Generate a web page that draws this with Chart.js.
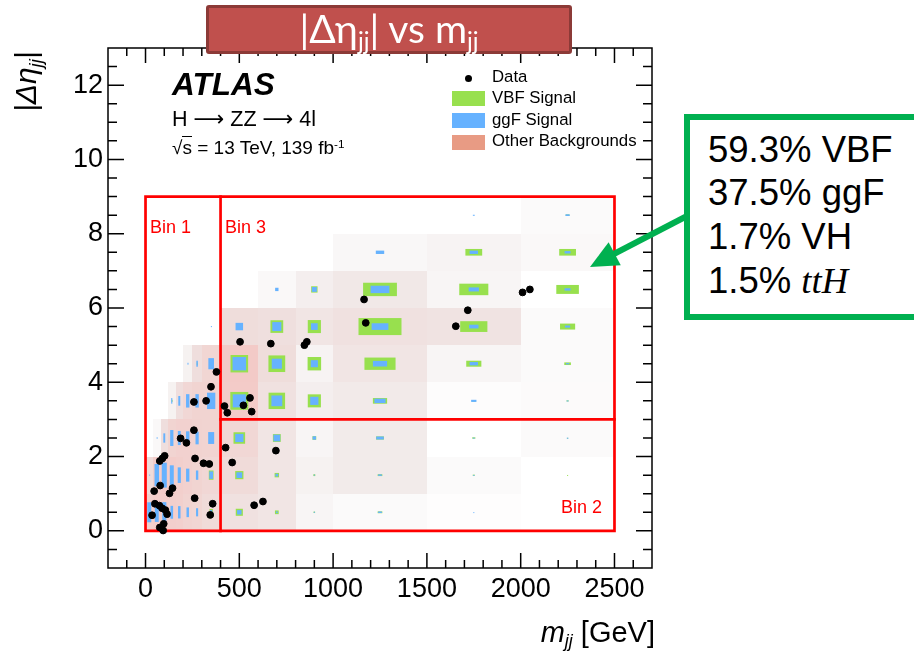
<!DOCTYPE html>
<html lang="es">
<head>
<meta charset="utf-8">
<title>|Δη_jj| vs m_jj</title>
<script src="https://cdn.jsdelivr.net/npm/chart.js@4.4.1/dist/chart.umd.min.js"></script>
<style>
  html, body { margin: 0; padding: 0; background: #fff; }
  body { width: 914px; height: 663px; position: relative; overflow: hidden; font-family: "Liberation Sans", Arial, sans-serif; color: #000; }
  #grafico { position: absolute; left: 0; top: 0; }
  .txt { position: absolute; white-space: nowrap; line-height: 1; }
  .rojo { color: #ff0000; font-size: 18px; }
  .caja { position: absolute; left: 452px; width: 33px; height: 15px; }
  .ley { font-size: 16.8px; left: 492px; }
  .linea { font-size: 36.5px; left: 708px; }
  .flecha { font-family: "DejaVu Sans", sans-serif; }
  sub { font-size: 0.62em; vertical-align: -0.3em; line-height: 0; }
  sup { font-size: 0.62em; vertical-align: 0.55em; line-height: 0; }
</style>
</head>
<body>
<canvas id="grafico" width="914" height="663"></canvas>

<div id="banner" style="position:absolute; left:206px; top:5px; width:366px; height:49px; box-sizing:border-box; background:#c0504d; border:3px solid #8c3a37; border-radius:3px; color:#fff; font-family:Lato, 'Open Sans', sans-serif; font-size:39px; display:flex; align-items:center; justify-content:center; line-height:1;">
  <span style="margin-top:-2px;">|Δη<sub>jj</sub>| vs m<sub>jj</sub></span>
</div>

<div class="txt" style="left:172px; top:69px; font-size:31.5px; font-weight:bold; font-style:italic;">ATLAS</div>
<div class="txt" style="left:172px; top:108px; font-size:21.5px;">H <span class="flecha">⟶</span> ZZ <span class="flecha">⟶</span> 4l</div>
<div class="txt" style="left:172px; top:137.5px; font-size:19px;">√<span style="border-top:1px solid #000;">s</span> = 13 TeV, 139 fb<sup>-1</sup></div>

<div style="position:absolute; left:464.8px; top:74.8px; width:7px; height:7px; border-radius:50%; background:#000;"></div>
<div class="txt ley" style="top:69px;">Data</div>
<div class="caja" style="top:91px; background:#98e04e;"></div>
<div class="txt ley" style="top:90px;">VBF Signal</div>
<div class="caja" style="top:113px; background:#66b2ff;"></div>
<div class="txt ley" style="top:111.7px;">ggF Signal</div>
<div class="caja" style="top:135px; background:#e89b84;"></div>
<div class="txt ley" style="top:133.4px;">Other Backgrounds</div>

<div class="txt rojo" style="left:150px; top:217.5px;">Bin 1</div>
<div class="txt rojo" style="left:225px; top:217.5px;">Bin 3</div>
<div class="txt rojo" style="right:312px; top:497.8px;">Bin 2</div>

<div class="txt" style="left:0; top:0; font-size:30px; font-style:italic; transform-origin:0 0; transform:translate(11px,112px) rotate(-90deg);">|Δη<sub>jj</sub>|</div>
<div class="txt" style="right:259px; top:618px; font-size:29px;"><i>m</i><sub><i>jj</i></sub> [GeV]</div>

<div style="position:absolute; left:684px; top:114px; width:250px; height:206px; box-sizing:border-box; border:6.5px solid #00b050; background:#fff;"></div>
<div class="txt linea" style="top:131.5px;">59.3% VBF</div>
<div class="txt linea" style="top:175.2px;">37.5% ggF</div>
<div class="txt linea" style="top:219.2px;">1.7% VH</div>
<div class="txt linea" style="top:262.5px;">1.5% <span style="font-family:'Liberation Serif', serif; font-style:italic;">ttH</span></div>

<svg width="914" height="663" style="position:absolute; left:0; top:0; pointer-events:none;">
  <line x1="687" y1="216" x2="612" y2="255" stroke="#00b050" stroke-width="6"/>
  <polygon points="590,267 608.6,242.3 620.8,265.3" fill="#00b050"/>
</svg>

<script>
// bordes de los bines en m_jj [GeV] y en |Δη_jj|
const bordesMjj = [0, 40, 80, 120, 160, 200, 250, 300, 400, 600, 800, 1000, 1500, 2000, 2500];
const bordesDeta = [0, 1, 2, 3, 4, 5, 6, 7, 8, 9];

// contenido de cada bin, una fila por intervalo de |Δη_jj| (fila 0 = 0-1)
const senalVBF = [
  [3, 3, 3, 1.5, 1.5, 1.2, 1.2, 3.2, 3.6, 1, 0.16, 0.25, 0, 0],
  [0, 4, 5, 4, 3, 2.5, 2, 6.3, 4.8, 1.4, 0.25, 0.25, 0.06, 0.01],
  [0, 0, 1, 3, 3, 3, 3, 3, 9.6, 4.4, 1, 0.72, 0.12, 0.01],
  [0, 0, 0, 0.3, 1, 2, 3, 5, 23, 19.4, 12.3, 2.3, 0.16, 0.06],
  [0, 0, 0, 0, 0, 0, 0.5, 2, 22, 20, 13, 11, 2.6, 0.5],
  [0, 0, 0, 0, 0, 0, 0, 0, 2.3, 11.6, 12.3, 21, 8.4, 2.6],
  [0, 0, 0, 0, 0, 0, 0, 0, 0, 0.25, 2.9, 13, 9.6, 5.8],
  [0, 0, 0, 0, 0, 0, 0, 0, 0, 0, 0, 0.5, 3.2, 3.2],
  [0, 0, 0, 0, 0, 0, 0, 0, 0, 0, 0, 0, 0, 0.16]
];
const senalGgF = [
  [29, 27, 30, 12, 11, 6.8, 4.8, 1.4, 1.4, 0.2, 0.09, 0.16, 0.01, 0],
  [0.09, 36, 45, 28, 17.6, 12.3, 6.3, 4, 2.3, 0.5, 0.09, 0.16, 0.02, 0],
  [0, 0.16, 6.3, 18.5, 14.4, 13, 11.6, 10.2, 4.8, 3.2, 0.8, 0.64, 0.04, 0.03],
  [0, 0, 0, 2.3, 6.8, 13, 13, 19.4, 12.3, 8.4, 4.8, 1.4, 0.32, 0.04],
  [0, 0, 0, 0, 0, 0.25, 2.6, 9, 13, 7.3, 3.6, 2.3, 0.8, 0.12],
  [0, 0, 0, 0, 0, 0, 0, 0.09, 4, 5.8, 3.2, 3.2, 1, 0.31],
  [0, 0, 0, 0, 0, 0, 0, 0, 0, 0.8, 1.7, 4, 1.2, 0.41],
  [0, 0, 0, 0, 0, 0, 0, 0, 0, 0, 0, 0.8, 0.8, 0.41],
  [0, 0, 0, 0, 0, 0, 0, 0, 0, 0, 0, 0, 0.04, 0.2]
];
const otrosFondos = [
  [0.70, 0.75, 0.75, 0.72, 0.70, 0.65, 0.62, 0.55, 0.45, 0.40, 0.15, 0.08, 0.03, 0],
  [0.55, 0.75, 0.78, 0.75, 0.72, 0.68, 0.65, 0.60, 0.55, 0.40, 0.20, 0.30, 0.08, 0],
  [0, 0.10, 0.50, 0.65, 0.68, 0.68, 0.66, 0.65, 0.60, 0.40, 0.15, 0.30, 0, 0.08],
  [0, 0, 0, 0.20, 0.50, 0.60, 0.65, 0.65, 0.78, 0.45, 0.25, 0.32, 0.04, 0.07],
  [0, 0, 0, 0, 0, 0.20, 0.50, 0.62, 0.80, 0.52, 0.18, 0.40, 0.15, 0.08],
  [0, 0, 0, 0, 0, 0, 0, 0, 0.52, 0.48, 0.40, 0.45, 0.42, 0.08],
  [0, 0, 0, 0, 0, 0, 0, 0, 0, 0.10, 0.25, 0.35, 0.15, 0],
  [0, 0, 0, 0, 0, 0, 0, 0, 0, 0, 0, 0.12, 0.18, 0.10],
  [0, 0, 0, 0, 0, 0, 0, 0, 0, 0, 0, 0, 0, 0.08]
];

// sucesos observados
const datosMjj = [2010, 2049, 1165, 1174, 1718, 1654, 504, 668, 860, 847,
  378, 349, 258, 323, 421, 436, 522, 557, 566, 258,
  187, 218, 427, 695, 102, 90, 76, 264, 309, 340,
  462, 78, 144, 46, 128, 262, 358, 579, 626, 50,
  74, 88, 106, 115, 35, 345, 97, 76, 94];
const datosDeta = [6.42, 6.50, 6.23, 5.60, 5.94, 5.51, 5.09, 5.04, 5.09, 5.00,
  4.28, 3.88, 3.47, 3.50, 3.36, 3.18, 3.38, 3.58, 3.21, 2.71,
  2.49, 2.37, 2.24, 2.16, 2.02, 1.95, 1.88, 1.95, 1.82, 1.80,
  1.84, 1.22, 1.15, 1.07, 1.01, 0.88, 0.73, 0.69, 0.79, 0.73,
  0.68, 0.61, 0.56, 0.45, 0.42, 0.43, 0.19, 0.09, 0.01];

const ticksMjj = [0, 500, 1000, 1500, 2000, 2500];
const ticksDeta = [0, 2, 4, 6, 8, 10, 12];

// contornos de las regiones Bin 1, 2 y 3
const contornoMjj = [0, 2500, 2500, 0, 0];
const contornoDeta = [0, 0, 9, 9, 0];
const corteVertMjj = [400, 400];
const corteVertDeta = [0, 9];
const corteHorMjj = [400, 2500];
const corteHorDeta = [3, 3];

const escalaCaja = 100;
const verde = '#98e04e';
const azul = '#66b2ff';

const paradas = [
  [0, [255, 255, 255]], [0.15, [248, 245, 245]], [0.3, [242, 235, 234]],
  [0.5, [239, 222, 221]], [0.7, [242, 208, 205]], [1, [245, 190, 186]]
];

function colorFondo(t) {
  for (let k = 1; k < paradas.length; k++) {
    if (t <= paradas[k][0]) {
      const [t0, c0] = paradas[k - 1];
      const [t1, c1] = paradas[k];
      const f = (t - t0) / (t1 - t0);
      const c = c0.map((v, i) => Math.round(v + (c1[i] - v) * f));
      return `rgb(${c[0]}, ${c[1]}, ${c[2]})`;
    }
  }
  const c = paradas[paradas.length - 1][1];
  return `rgb(${c[0]}, ${c[1]}, ${c[2]})`;
}

function puntos(xs, ys) {
  return xs.map((v, i) => ({ x: v, y: ys[i] }));
}

// fondo coloreado y cajas de señal, dibujados con las escalas del gráfico
const cajas = {
  id: 'cajas',
  beforeDatasetsDraw(chart) {
    const { ctx, chartArea: a, scales: { x, y } } = chart;
    ctx.save();
    ctx.beginPath();
    ctx.rect(a.left, a.top, a.right - a.left, a.bottom - a.top);
    ctx.clip();

    otrosFondos.forEach((fila, i) => fila.forEach((v, j) => {
      if (v <= 0) return;
      const x0 = Math.round(x.getPixelForValue(bordesMjj[j]));
      const x1 = Math.round(x.getPixelForValue(bordesMjj[j + 1]));
      const y0 = Math.round(y.getPixelForValue(bordesDeta[i]));
      const y1 = Math.round(y.getPixelForValue(bordesDeta[i + 1]));
      ctx.fillStyle = colorFondo(v);
      ctx.fillRect(x0, y1, x1 - x0, y0 - y1);
    }));

    [[senalVBF, verde], [senalGgF, azul]].forEach(([tabla, color]) => {
      ctx.fillStyle = color;
      tabla.forEach((fila, i) => fila.forEach((v, j) => {
        if (v <= 0) return;
        const f = Math.min(1, Math.sqrt(v / escalaCaja));
        const xc = (bordesMjj[j] + bordesMjj[j + 1]) / 2;
        const dx = (bordesMjj[j + 1] - bordesMjj[j]) * f / 2;
        const yc = (bordesDeta[i] + bordesDeta[i + 1]) / 2;
        const dy = (bordesDeta[i + 1] - bordesDeta[i]) * f / 2;
        const px0 = x.getPixelForValue(xc - dx);
        const px1 = x.getPixelForValue(xc + dx);
        const py0 = y.getPixelForValue(yc - dy);
        const py1 = y.getPixelForValue(yc + dy);
        ctx.fillRect(px0, py1, Math.max(1, px1 - px0), Math.max(1, py0 - py1));
      }));
    });
    ctx.restore();
  }
};

// marco con marcas hacia dentro, al estilo ROOT
const marco = {
  id: 'marco',
  afterDraw(chart) {
    const { ctx, chartArea: a, scales: { x, y } } = chart;
    ctx.save();
    ctx.strokeStyle = '#000';
    ctx.lineWidth = 1.5;
    ctx.strokeRect(a.left, a.top, a.right - a.left, a.bottom - a.top);
    ctx.beginPath();
    for (let v = -100; v < 2700; v += 100) {
      const px = x.getPixelForValue(v);
      const l = v % 500 === 0 ? 15 : 8;
      ctx.moveTo(px, a.bottom);
      ctx.lineTo(px, a.bottom - l);
      ctx.moveTo(px, a.top);
      ctx.lineTo(px, a.top + l);
    }
    for (let v = -0.5; v < 13; v += 0.5) {
      const py = y.getPixelForValue(v);
      const l = v % 2 === 0 ? 16 : 9;
      ctx.moveTo(a.left, py);
      ctx.lineTo(a.left + l, py);
      ctx.moveTo(a.right, py);
      ctx.lineTo(a.right - l, py);
    }
    ctx.stroke();
    ctx.restore();
  }
};

const lineaRoja = {
  showLine: true,
  borderColor: '#ff0000',
  borderWidth: 2.7,
  pointRadius: 0,
  fill: false,
  borderCapStyle: 'square',
  borderJoinStyle: 'miter',
  order: 1
};

const ctx = document.getElementById('grafico').getContext('2d');
new Chart(ctx, {
  type: 'scatter',
  data: {
    datasets: [
      {
        label: 'Data',
        data: puntos(datosMjj, datosDeta),
        backgroundColor: '#000',
        borderColor: '#000',
        pointRadius: 3.4,
        order: 0
      },
      { ...lineaRoja, label: 'Bin 1-2-3', data: puntos(contornoMjj, contornoDeta) },
      { ...lineaRoja, label: 'corte mjj', data: puntos(corteVertMjj, corteVertDeta) },
      { ...lineaRoja, label: 'corte deta', data: puntos(corteHorMjj, corteHorDeta) }
    ]
  },
  options: {
    responsive: false,
    animation: false,
    layout: { padding: { top: 48, right: 262, left: 0, bottom: 0 } },
    plugins: {
      legend: { display: false },
      tooltip: { enabled: false }
    },
    scales: {
      x: {
        type: 'linear',
        min: -200,
        max: 2700,
        grid: { display: false, drawTicks: false },
        border: { display: false },
        ticks: {
          color: '#000',
          font: { family: 'Liberation Sans', size: 27 },
          padding: 5,
          maxRotation: 0,
          autoSkip: false,
          callback: (v) => String(v)
        },
        afterBuildTicks: (eje) => { eje.ticks = ticksMjj.map(v => ({ value: v })); },
        afterFit: (eje) => { eje.height = 95; }
      },
      y: {
        type: 'linear',
        min: -1,
        max: 13,
        grid: { display: false, drawTicks: false },
        border: { display: false },
        ticks: {
          color: '#000',
          font: { family: 'Liberation Sans', size: 27 },
          padding: 5,
          autoSkip: false,
          callback: (v) => String(v)
        },
        afterBuildTicks: (eje) => { eje.ticks = ticksDeta.map(v => ({ value: v })); },
        afterFit: (eje) => { eje.width = 108; }
      }
    }
  },
  plugins: [cajas, marco]
});
</script>
</body>
</html>
